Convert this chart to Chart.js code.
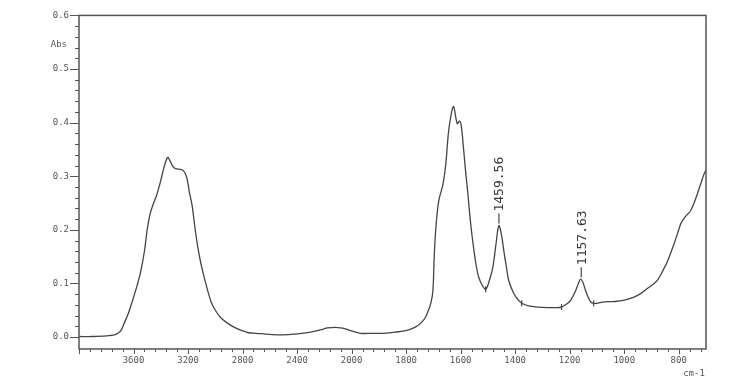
<!DOCTYPE html>
<html>
<head>
<meta charset="utf-8">
<script src="https://cdn.jsdelivr.net/npm/chart.js@4.4.0/dist/chart.umd.min.js"></script>
<style>
  html, body { margin: 0; padding: 0; background: #fff; }
  #wrap { width: 756px; height: 384px; }
</style>
</head>
<body>
<div id="wrap"><canvas id="irChart" width="756" height="384"></canvas></div>
<script>
// IR spectrum, wavenumber (cm-1) vs absorbance
const wavenumbers = [
  4000, 3900, 3800, 3740, 3710, 3690, 3670, 3644, 3620, 3600, 3575, 3549, 3520, 3500, 3480, 3460,
  3430, 3400, 3375, 3350, 3335, 3310, 3290, 3260, 3233, 3210, 3190, 3170, 3150, 3130, 3108, 3080,
  3057, 3030, 3000, 2960, 2911, 2860, 2815, 2756, 2700, 2600, 2500, 2400, 2300, 2220, 2176, 2120,
  2080, 2040, 2008, 1967, 1920, 1882, 1840, 1794, 1765, 1746, 1730, 1722, 1710, 1702, 1697, 1690,
  1680, 1665, 1655, 1645, 1635, 1626, 1618, 1612, 1604, 1598, 1590, 1582, 1574, 1565, 1556, 1545,
  1534, 1520, 1508, 1495, 1482, 1470, 1460, 1450, 1442, 1432, 1424, 1406, 1390, 1376, 1350, 1318,
  1280, 1250, 1230, 1210, 1196, 1178, 1168, 1160, 1150, 1142, 1130, 1122, 1112, 1098, 1080, 1060,
  1040, 1024, 1000, 966, 940, 914, 890, 878, 860, 840, 820, 800, 792, 775, 756, 740, 720, 708, 700
];
const absorbance = [
  0.001, 0.001, 0.002, 0.004, 0.008, 0.013, 0.025, 0.040, 0.058, 0.074, 0.095, 0.120, 0.160, 0.200, 0.228, 0.245,
  0.265, 0.292, 0.318, 0.335, 0.330, 0.318, 0.314, 0.313, 0.310, 0.298, 0.270, 0.245, 0.205, 0.170, 0.140, 0.110,
  0.088, 0.065, 0.050, 0.036, 0.026, 0.018, 0.013, 0.008, 0.007, 0.005, 0.004, 0.006, 0.009, 0.014, 0.017, 0.018,
  0.017, 0.015, 0.012, 0.007, 0.007, 0.007, 0.009, 0.013, 0.019, 0.026, 0.036, 0.045, 0.062, 0.085, 0.150, 0.210,
  0.255, 0.285, 0.320, 0.380, 0.415, 0.430, 0.410, 0.398, 0.403, 0.395, 0.355, 0.310, 0.270, 0.220, 0.180, 0.140,
  0.112, 0.096, 0.089, 0.105, 0.130, 0.175, 0.208, 0.190, 0.162, 0.130, 0.106, 0.082, 0.070, 0.063, 0.058, 0.056,
  0.055, 0.055, 0.056, 0.062, 0.069, 0.087, 0.100, 0.108, 0.100, 0.087, 0.072, 0.065, 0.063, 0.063, 0.065, 0.066,
  0.066, 0.067, 0.069, 0.074, 0.081, 0.091, 0.100, 0.106, 0.122, 0.143, 0.170, 0.200, 0.212, 0.225, 0.236, 0.255, 0.285, 0.303, 0.312
];
const xTickLabels = [3600, 3200, 2800, 2400, 2000, 1800, 1600, 1400, 1200, 1000, 800];
const yTickLabels = [0, 0.1, 0.2, 0.3, 0.4, 0.5, 0.6];
const peakWavenumbers = [1459.56, 1157.63];
const peakAbsorbance = [0.208, 0.108];
const markerWavenumbers = [1508, 1376, 1230, 1112];
const markerAbsorbance = [0.089, 0.063, 0.056, 0.063];

const xMinWn = 4000;
const xMaxWn = 700;
const yMin = -0.0223;
const yMax = 0.6;

// axis is compressed above 2000 cm-1 (400 per division) and expanded below (200 per division)
const xPos = (wn) => wn >= 2000 ? (4000 - wn) / 400 : 5 + (2000 - wn) / 200;

const lineColor = '#444';
const axisColor = '#555';
const monoFont = 'DejaVu Sans Mono';

const frameAndTicks = {
  id: 'frameAndTicks',
  afterDraw(chart) {
    const { ctx, chartArea: a, scales: { x, y } } = chart;
    ctx.save();
    ctx.strokeStyle = axisColor;
    ctx.lineWidth = 1;
    ctx.beginPath();
    // y ticks every 0.02, major every 0.1
    for (let i = 0; i <= 30; i++) {
      const py = Math.round(y.getPixelForValue(i * 0.02)) + 0.5;
      const len = i % 5 === 0 ? 9 : 4;
      ctx.moveTo(a.left - len, py);
      ctx.lineTo(a.left, py);
    }
    // x ticks: five per division
    const maxP = xPos(xMaxWn);
    for (let i = 0; i * 0.2 <= maxP + 1e-6; i++) {
      const px = Math.round(x.getPixelForValue(i * 0.2)) + 0.5;
      const len = i % 5 === 0 ? 5 : 3;
      ctx.moveTo(px, a.bottom);
      ctx.lineTo(px, a.bottom + len);
    }
    ctx.stroke();

    ctx.lineWidth = 1.5;
    ctx.strokeRect(a.left, a.top, a.right - a.left, a.bottom - a.top);

    ctx.fillStyle = axisColor;
    ctx.font = `9px "${monoFont}"`;
    ctx.textBaseline = 'middle';
    ctx.textAlign = 'right';
    ctx.fillText('Abs', a.left - 12, y.getPixelForValue(0.545));
    ctx.textAlign = 'center';
    ctx.fillText('cm-1', a.right - 12, a.bottom + 25);
    ctx.restore();
  }
};

const peakLabels = {
  id: 'peakLabels',
  afterDatasetsDraw(chart) {
    const { ctx, scales: { x, y } } = chart;
    ctx.save();
    ctx.strokeStyle = lineColor;
    ctx.fillStyle = '#3a3a3a';
    ctx.lineWidth = 1.2;
    ctx.font = `13px "${monoFont}"`;
    peakWavenumbers.forEach((wn, i) => {
      const px = x.getPixelForValue(xPos(wn));
      const py = y.getPixelForValue(peakAbsorbance[i]);
      ctx.beginPath();
      ctx.moveTo(px, py - 2);
      ctx.lineTo(px, py - 12);
      ctx.stroke();
      ctx.save();
      ctx.translate(px, py - 14);
      ctx.rotate(-Math.PI / 2);
      ctx.textAlign = 'left';
      ctx.textBaseline = 'middle';
      ctx.fillText(wn.toFixed(2), 0, 1);
      ctx.restore();
    });
    ctx.restore();
  }
};

new Chart(document.getElementById('irChart'), {
  type: 'line',
  data: {
    datasets: [
      {
        label: 'Spectrum',
        data: wavenumbers.map((wn, i) => ({ x: xPos(wn), y: absorbance[i] })),
        borderColor: lineColor,
        borderWidth: 1.3,
        pointRadius: 0,
        tension: 0.35,
        fill: false
      },
      {
        label: 'Markers',
        data: markerWavenumbers.map((wn, i) => ({ x: xPos(wn), y: markerAbsorbance[i] })),
        showLine: false,
        pointStyle: 'line',
        rotation: 90,
        pointRadius: 3,
        borderColor: lineColor,
        borderWidth: 1.2
      }
    ]
  },
  options: {
    responsive: false,
    animation: false,
    layout: { padding: { left: 0, top: 14, right: 50, bottom: 0 } },
    plugins: {
      legend: { display: false },
      tooltip: { enabled: false }
    },
    scales: {
      x: {
        type: 'linear',
        min: xPos(xMinWn),
        max: xPos(xMaxWn),
        grid: { display: false, drawTicks: false },
        border: { display: false },
        afterFit: (scale) => { scale.height = 35; },
        afterBuildTicks: (scale) => {
          scale.ticks = xTickLabels.map((wn) => ({ value: xPos(wn) }));
        },
        ticks: {
          padding: 6,
          maxRotation: 0,
          autoSkip: false,
          color: axisColor,
          font: { family: monoFont, size: 9 },
          callback: (value, index) => String(xTickLabels[index])
        }
      },
      y: {
        min: yMin,
        max: yMax,
        grid: { display: false, drawTicks: false },
        border: { display: false },
        afterFit: (scale) => { scale.width = 79; },
        afterBuildTicks: (scale) => {
          scale.ticks = yTickLabels.map((v) => ({ value: v }));
        },
        ticks: {
          padding: 10,
          color: axisColor,
          font: { family: monoFont, size: 9 },
          callback: (value) => Number(value).toFixed(1)
        }
      }
    }
  },
  plugins: [frameAndTicks, peakLabels]
});
</script>
</body>
</html>
